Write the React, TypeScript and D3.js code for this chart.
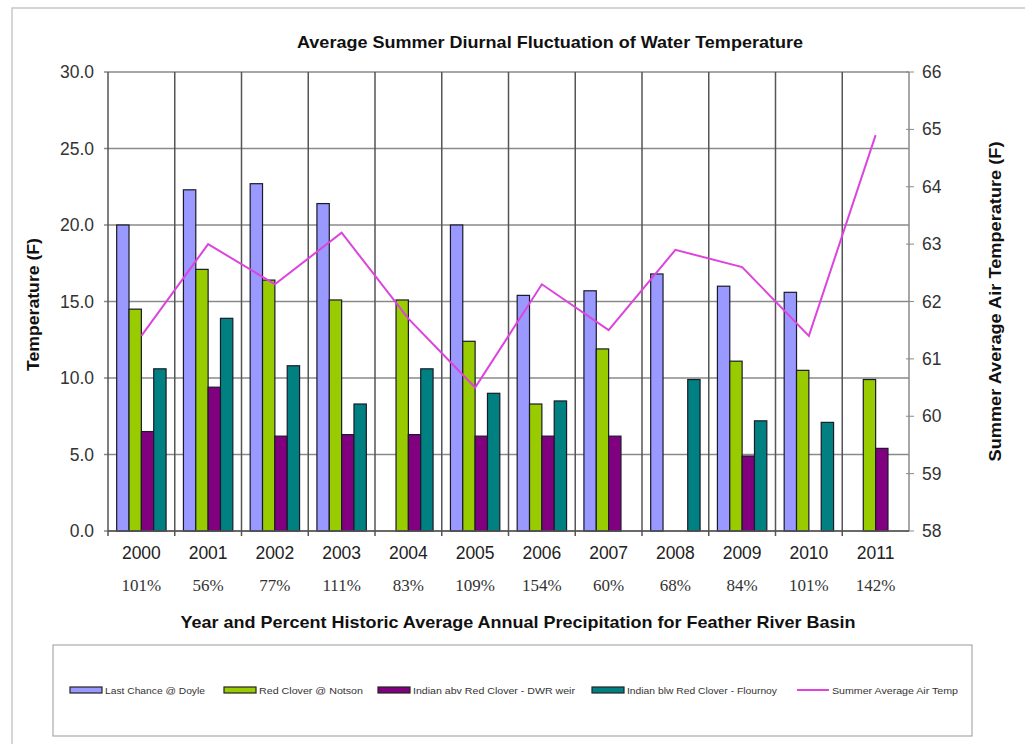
import React from "react";
import * as d3 from "d3";

const years = ["2000", "2001", "2002", "2003", "2004", "2005", "2006", "2007", "2008", "2009", "2010", "2011"];
const precipPct = ["101%", "56%", "77%", "111%", "83%", "109%", "154%", "60%", "68%", "84%", "101%", "142%"];
const lastChanceDoyle = [20.0, 22.3, 22.7, 21.4, null, 20.0, 15.4, 15.7, 16.8, 16.0, 15.6, null];
const redCloverNotson = [14.5, 17.1, 16.4, 15.1, 15.1, 12.4, 8.3, 11.9, null, 11.1, 10.5, 9.9];
const indianAbvDWR = [6.5, 9.4, 6.2, 6.3, 6.3, 6.2, 6.2, 6.2, null, 4.9, null, 5.4];
const indianBlwFlournoy = [10.6, 13.9, 10.8, 8.3, 10.6, 9.0, 8.5, null, 9.9, 7.2, 7.1, null];
const airTemp = [61.4, 63.0, 62.3, 63.2, 61.7, 60.5, 62.3, 61.5, 62.9, 62.6, 61.4, 64.9];
const leftTicks = [0, 5, 10, 15, 20, 25, 30];
const rightTicks = [58, 59, 60, 61, 62, 63, 64, 65, 66];
const seriesNames = [
  "Last Chance @ Doyle",
  "Red Clover @ Notson",
  "Indian abv Red Clover - DWR weir",
  "Indian blw Red Clover - Flournoy",
];
const lineName = "Summer Average Air Temp";

const barSeries = [lastChanceDoyle, redCloverNotson, indianAbvDWR, indianBlwFlournoy];
const barColors = ["#9999ff", "#99cc00", "#800080", "#008080"];
const lineColor = "#dd44dd";

export default function App() {
  const W = 1025, H = 744;
  const left = 108, right = 909, top = 72, bottom = 531;
  const x = d3.scaleBand<string>().domain(years).range([left, right]).padding(0);
  const bw = x.bandwidth();
  const inner = d3
    .scaleBand<number>()
    .domain(d3.range(barSeries.length))
    .range([bw * 0.13, bw * 0.87])
    .padding(0);
  const y = d3.scaleLinear().domain([0, 30]).range([bottom, top]);
  const y2 = d3.scaleLinear().domain([58, 66]).range([bottom, top]);
  const line = d3
    .line<number>()
    .x((_, i) => (x(years[i]) as number) + bw / 2)
    .y((d) => y2(d));

  const font = "Liberation Sans, Arial, sans-serif";
  const legendItems = [...seriesNames.map((n, i) => ({ n, c: barColors[i], bar: true })), { n: lineName, c: lineColor, bar: false }];
  const legendX = [70, 224, 378, 592, 797];
  const legendLen = [100, 104, 162, 150, 126];

  return (
    <div style={{ position: "absolute", left: 0, top: 0 }}>
      <svg width={W} height={H} style={{ display: "block", background: "#fff" }}>
        <rect x={12} y={8} width={1030} height={760} fill="#fff" stroke="#c8c8c8" strokeWidth={1.5} />
        <text x={550} y={48} textAnchor="middle" fontFamily={font} fontWeight="bold" fontSize={16.5}
          textLength={506} lengthAdjust="spacingAndGlyphs" fill="#111">
          Average Summer Diurnal Fluctuation of Water Temperature
        </text>
        {/* horizontal gridlines */}
        {leftTicks.map((t) => (
          <g key={"h" + t}>
            <line x1={left - 4} x2={right} y1={y(t)} y2={y(t)} stroke="#8a8a8a" strokeWidth={1.5} />
            <text x={94} y={y(t) + 6} textAnchor="end" fontFamily={font} fontSize={17.5} fill="#333">
              {t.toFixed(1)}
            </text>
          </g>
        ))}
        {/* vertical category lines */}
        {years.map((yr) => (
          <line key={"v" + yr} x1={x(yr)} x2={x(yr)} y1={top} y2={bottom + 5} stroke="#555" strokeWidth={1.5} />
        ))}
        <line x1={right} x2={right} y1={top} y2={bottom} stroke="#8a8a8a" strokeWidth={1.5} />
        {/* right axis */}
        {rightTicks.map((t) => (
          <g key={"r" + t}>
            <line x1={right - 3} x2={right + 5} y1={y2(t)} y2={y2(t)} stroke="#8a8a8a" strokeWidth={1} />
            <text x={922} y={y2(t) + 6} textAnchor="start" fontFamily={font} fontSize={17.5} fill="#333">
              {t}
            </text>
          </g>
        ))}
        {/* bars */}
        {barSeries.map((s, si) =>
          s.map((v, i) =>
            v == null ? null : (
              <rect
                key={si + "-" + i}
                x={(x(years[i]) as number) + (inner(si) as number)}
                y={y(v)}
                width={inner.bandwidth()}
                height={y(0) - y(v)}
                fill={barColors[si]}
                stroke="#1a1a2a"
                strokeWidth={1.2}
              />
            )
          )
        )}
        <line x1={left} x2={right} y1={bottom} y2={bottom} stroke="#555" strokeWidth={1.5} />
        {/* air temp line */}
        <path d={line(airTemp) || ""} fill="none" stroke={lineColor} strokeWidth={2} />
        {/* x labels */}
        {years.map((yr, i) => (
          <g key={"xl" + yr}>
            <text x={(x(yr) as number) + bw / 2} y={559} textAnchor="middle" fontFamily={font} fontSize={17.5} fill="#222">
              {yr}
            </text>
            <text
              x={(x(yr) as number) + bw / 2}
              y={591}
              textAnchor="middle"
              fontFamily="Liberation Serif, Times New Roman, serif"
              fontSize={17}
              fill="#333"
            >
              {precipPct[i]}
            </text>
          </g>
        ))}
        <text x={518} y={628} textAnchor="middle" fontFamily={font} fontWeight="bold" fontSize={17}
          textLength={675} lengthAdjust="spacingAndGlyphs" fill="#111">
          Year and Percent Historic Average Annual Precipitation for Feather River Basin
        </text>
        <text
          transform={`translate(39,${(top + bottom) / 2 + 3}) rotate(-90)`}
          textAnchor="middle"
          fontFamily={font}
          fontWeight="bold"
          fontSize={17}
          textLength={133}
          lengthAdjust="spacingAndGlyphs"
          fill="#111"
        >
          Temperature (F)
        </text>
        <text
          transform={`translate(1001,${(top + bottom) / 2}) rotate(-90)`}
          textAnchor="middle"
          fontFamily={font}
          fontWeight="bold"
          fontSize={17}
          textLength={320}
          lengthAdjust="spacingAndGlyphs"
          fill="#111"
        >
          Summer Average Air Temperature (F)
        </text>
        {/* legend */}
        <rect x={53} y={645} width={919} height={91} fill="#fff" stroke="#aaa" strokeWidth={1.2} />
        {legendItems.map((it, i) => (
          <g key={"lg" + i}>
            {it.bar ? (
              <rect x={legendX[i]} y={687} width={32} height={6} fill={it.c} stroke="#222" strokeWidth={1.2} />
            ) : (
              <line x1={legendX[i]} x2={legendX[i] + 32} y1={690} y2={690} stroke={it.c} strokeWidth={2} />
            )}
            <text x={legendX[i] + 35} y={693.5} fontFamily={font} fontSize={9.5} fill="#333"
              textLength={legendLen[i]} lengthAdjust="spacingAndGlyphs">
              {it.n}
            </text>
          </g>
        ))}
      </svg>
    </div>
  );
}
